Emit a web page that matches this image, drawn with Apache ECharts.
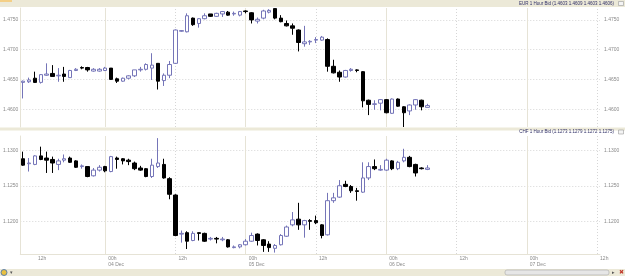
<!doctype html>
<html>
<head>
<meta charset="UTF-8">
<title>EUR / CHF 1 Hour Bid</title>
<script src="https://cdn.jsdelivr.net/npm/echarts@6/dist/echarts.min.js"></script>
<style>
  html, body { margin: 0; padding: 0; background: #fff; }
  #chart { width: 625px; height: 276px; }
</style>
</head>
<body>
<div id="chart"></div>
<script>
// hours counted from 00h 03 Dec; first candle is 10h 03 Dec
var firstHour = 10;
var lastHour = 108;

// x axis ticks (hour, label)
var tickHours = [12, 24, 36, 48, 60, 72, 84, 96, 108];
var tickText = ['12h', '00h\n04 Dec', '12h', '00h\n05 Dec', '12h', '00h\n06 Dec', '12h', '00h\n07 Dec', '12h'];
var dayLines = [24, 48, 72, 96];     // solid
var halfDayLines = [36, 60, 84, 108]; // dotted

// EUR 1 Hour Bid: [open, close, low, high]
var eurBid = [
  [1.4645, 1.4647, 1.4618, 1.4648], [1.4646, 1.4649, 1.4644, 1.4653], [1.4652, 1.4645, 1.4644, 1.4663],
  [1.4645, 1.4658, 1.4643, 1.4659], [1.4657, 1.4659, 1.4656, 1.4677], [1.4660, 1.4655, 1.4655, 1.4674],
  [1.4656, 1.4657, 1.4646, 1.4669], [1.4659, 1.4655, 1.4646, 1.4671], [1.4653, 1.4665, 1.4653, 1.4666],
  [1.4665, 1.4667, 1.4664, 1.4669], [1.4670, 1.4669, 1.4667, 1.4672], [1.4670, 1.4666, 1.4663, 1.4671],
  [1.4664, 1.4667, 1.4663, 1.4669], [1.4664, 1.4667, 1.4663, 1.4669], [1.4665, 1.4669, 1.4664, 1.4671],
  [1.4669, 1.4650, 1.4649, 1.4669], [1.4651, 1.4647, 1.4644, 1.4653], [1.4647, 1.4652, 1.4646, 1.4653],
  [1.4652, 1.4656, 1.4650, 1.4657], [1.4656, 1.4666, 1.4654, 1.4666], [1.4666, 1.4667, 1.4663, 1.4671],
  [1.4667, 1.4675, 1.4665, 1.4677], [1.4669, 1.4674, 1.4649, 1.4694], [1.4677, 1.4647, 1.4633, 1.4677],
  [1.4648, 1.4657, 1.4639, 1.4660], [1.4657, 1.4675, 1.4652, 1.4681], [1.4677, 1.4733, 1.4676, 1.4734],
  [1.4731, 1.4732, 1.4730, 1.4733], [1.4730, 1.4757, 1.4729, 1.4761], [1.4753, 1.4742, 1.4740, 1.4754],
  [1.4744, 1.4752, 1.4737, 1.4753], [1.4752, 1.4757, 1.4751, 1.4761], [1.4760, 1.4756, 1.4755, 1.4760],
  [1.4756, 1.4761, 1.4755, 1.4762], [1.4760, 1.4764, 1.4755, 1.4765], [1.4763, 1.4758, 1.4757, 1.4765],
  [1.4760, 1.4761, 1.4757, 1.4764], [1.4758, 1.4764, 1.4756, 1.4765], [1.4765, 1.4764, 1.4761, 1.4766],
  [1.4762, 1.4750, 1.4744, 1.4763], [1.4748, 1.4751, 1.4744, 1.4754], [1.4753, 1.4765, 1.4751, 1.4767],
  [1.4763, 1.4766, 1.4761, 1.4768], [1.4769, 1.4753, 1.4751, 1.4769], [1.4753, 1.4747, 1.4746, 1.4758],
  [1.4744, 1.4740, 1.4739, 1.4749], [1.4740, 1.4736, 1.4725, 1.4744], [1.4733, 1.4712, 1.4697, 1.4734],
  [1.4710, 1.4713, 1.4705, 1.4740], [1.4713, 1.4714, 1.4708, 1.4716], [1.4716, 1.4717, 1.4711, 1.4721],
  [1.4716, 1.4721, 1.4715, 1.4723], [1.4717, 1.4672, 1.4663, 1.4719], [1.4672, 1.4661, 1.4660, 1.4683],
  [1.4662, 1.4654, 1.4646, 1.4665], [1.4654, 1.4665, 1.4653, 1.4666], [1.4665, 1.4667, 1.4663, 1.4669],
  [1.4666, 1.4665, 1.4662, 1.4667], [1.4663, 1.4614, 1.4603, 1.4664], [1.4615, 1.4608, 1.4590, 1.4616],
  [1.4608, 1.4609, 1.4599, 1.4615], [1.4610, 1.4616, 1.4598, 1.4617], [1.4616, 1.4594, 1.4593, 1.4617],
  [1.4593, 1.4617, 1.4592, 1.4618], [1.4617, 1.4605, 1.4604, 1.4618], [1.4604, 1.4594, 1.4570, 1.4605],
  [1.4597, 1.4607, 1.4590, 1.4608], [1.4607, 1.4616, 1.4599, 1.4617], [1.4615, 1.4604, 1.4598, 1.4616],
  [1.4603, 1.4606, 1.4603, 1.4609]
];

// CHF 1 Hour Bid: [open, close, low, high]
var chfBid = [
  [1.1288, 1.1279, 1.1278, 1.1298], [1.1281, 1.1282, 1.1270, 1.1289], [1.1280, 1.1292, 1.1279, 1.1293],
  [1.1292, 1.1287, 1.1286, 1.1305], [1.1289, 1.1286, 1.1268, 1.1298], [1.1287, 1.1282, 1.1268, 1.1291],
  [1.1280, 1.1285, 1.1272, 1.1288], [1.1286, 1.1288, 1.1283, 1.1294], [1.1289, 1.1283, 1.1282, 1.1291],
  [1.1285, 1.1276, 1.1275, 1.1286], [1.1277, 1.1278, 1.1274, 1.1280], [1.1277, 1.1263, 1.1262, 1.1277],
  [1.1264, 1.1272, 1.1263, 1.1275], [1.1272, 1.1276, 1.1270, 1.1279], [1.1277, 1.1271, 1.1269, 1.1278],
  [1.1270, 1.1291, 1.1269, 1.1292], [1.1289, 1.1287, 1.1274, 1.1291], [1.1288, 1.1285, 1.1280, 1.1289],
  [1.1286, 1.1284, 1.1279, 1.1288], [1.1282, 1.1274, 1.1272, 1.1284], [1.1275, 1.1272, 1.1271, 1.1278],
  [1.1274, 1.1263, 1.1262, 1.1275], [1.1263, 1.1279, 1.1261, 1.1288], [1.1277, 1.1282, 1.1275, 1.1317],
  [1.1280, 1.1261, 1.1260, 1.1288], [1.1260, 1.1238, 1.1231, 1.1262], [1.1237, 1.1180, 1.1179, 1.1238],
  [1.1182, 1.1183, 1.1170, 1.1187], [1.1184, 1.1172, 1.1161, 1.1186], [1.1173, 1.1183, 1.1172, 1.1186],
  [1.1184, 1.1183, 1.1173, 1.1184], [1.1183, 1.1172, 1.1171, 1.1184], [1.1175, 1.1176, 1.1173, 1.1178],
  [1.1176, 1.1175, 1.1169, 1.1178], [1.1174, 1.1175, 1.1172, 1.1178], [1.1174, 1.1164, 1.1163, 1.1175],
  [1.1163, 1.1164, 1.1162, 1.1166], [1.1164, 1.1167, 1.1162, 1.1168], [1.1167, 1.1172, 1.1166, 1.1175],
  [1.1172, 1.1180, 1.1171, 1.1184], [1.1182, 1.1173, 1.1166, 1.1183], [1.1174, 1.1166, 1.1157, 1.1175],
  [1.1168, 1.1163, 1.1157, 1.1172], [1.1162, 1.1166, 1.1156, 1.1168], [1.1167, 1.1180, 1.1166, 1.1182],
  [1.1179, 1.1192, 1.1178, 1.1194], [1.1195, 1.1202, 1.1193, 1.1213], [1.1203, 1.1195, 1.1188, 1.1226],
  [1.1195, 1.1201, 1.1177, 1.1202], [1.1201, 1.1200, 1.1188, 1.1203], [1.1201, 1.1198, 1.1196, 1.1208],
  [1.1195, 1.1180, 1.1176, 1.1196], [1.1181, 1.1229, 1.1180, 1.1240], [1.1229, 1.1233, 1.1226, 1.1240],
  [1.1234, 1.1250, 1.1233, 1.1258], [1.1252, 1.1249, 1.1248, 1.1257], [1.1249, 1.1243, 1.1240, 1.1251],
  [1.1243, 1.1242, 1.1229, 1.1247], [1.1241, 1.1261, 1.1240, 1.1283], [1.1261, 1.1277, 1.1258, 1.1283],
  [1.1277, 1.1274, 1.1272, 1.1287], [1.1272, 1.1273, 1.1271, 1.1279], [1.1272, 1.1286, 1.1271, 1.1288],
  [1.1285, 1.1274, 1.1272, 1.1286], [1.1274, 1.1283, 1.1272, 1.1285], [1.1285, 1.1290, 1.1283, 1.1302],
  [1.1290, 1.1277, 1.1276, 1.1292], [1.1280, 1.1268, 1.1263, 1.1281], [1.1275, 1.1274, 1.1273, 1.1276],
  [1.1273, 1.1275, 1.1272, 1.1279]
];

var eurRange = [1.4570, 1.4770];
var chfRange = [1.1154, 1.1320];

var hours = [];
for (var h = firstHour; h <= lastHour; h++) hours.push(String(h));

var font = 'Liberation Sans';
var upColor = '#7575b8';
var gridColor = '#d6d6d6';
var dayColor = '#e6e3d6';

// vertical day / half-day lines, carried by an empty series kept under the candles
function vLineSeries(xi, yi) {
  var d = [];
  dayLines.forEach(function (h) {
    d.push({ xAxis: h - firstHour, lineStyle: { color: dayColor, type: 'solid', width: 1 } });
  });
  halfDayLines.forEach(function (h) {
    d.push({ xAxis: h - firstHour, lineStyle: { color: gridColor, type: [1, 2], width: 1 } });
  });
  return {
    type: 'line', xAxisIndex: xi, yAxisIndex: yi, data: [], z: 1, silent: true,
    markLine: { z: 1, silent: true, symbol: 'none', animation: false, label: { show: false }, data: d }
  };
}

function yAx(grid, side, range) {
  return {
    type: 'value', gridIndex: grid, position: side, min: range[0], max: range[1], splitNumber: 4,
    axisLine: { show: side === 'left', lineStyle: { color: dayColor } },
    axisTick: { show: false },
    axisLabel: {
      fontSize: 5, fontFamily: font, color: '#8a8a8a', margin: side === 'left' ? 2 : 4,
      showMinLabel: false, showMaxLabel: false,
      formatter: function (v) { return v.toFixed(4); }
    },
    splitLine: side === 'left'
      ? { show: true, showMinLine: false, showMaxLine: false, lineStyle: { color: gridColor, type: [1, 2] } }
      : { show: false }
  };
}

var candleStyle = {
  color: '#ffffff', color0: '#000000',
  borderColor: upColor, borderColor0: '#000000', borderWidth: 1
};

var chart = echarts.init(document.getElementById('chart'), null, { renderer: 'canvas' });
chart.setOption({
  animation: false,
  backgroundColor: '#ffffff',
  grid: [
    { left: 19, right: 25, top: 8, height: 119 },
    { left: 19, right: 25, top: 136, height: 118 }
  ],
  xAxis: [
    { type: 'category', gridIndex: 0, data: hours, boundaryGap: true,
      axisLine: { show: false }, axisTick: { show: false }, axisLabel: { show: false }, splitLine: { show: false } },
    { type: 'category', gridIndex: 1, data: hours, boundaryGap: true,
      axisLine: { show: true, lineStyle: { color: dayColor } }, axisTick: { show: false }, splitLine: { show: false },
      axisLabel: {
        interval: function (i) { return tickHours.indexOf(i + firstHour) >= 0; },
        formatter: function (v, i) { return tickText[tickHours.indexOf(i + firstHour)] || ''; },
        fontSize: 5, lineHeight: 6, fontFamily: font, color: '#8a8a8a',
        align: 'left', padding: [0, 0, 0, 3], margin: 2
      } }
  ],
  yAxis: [
    yAx(0, 'left', eurRange), yAx(0, 'right', eurRange),
    yAx(1, 'left', chfRange), yAx(1, 'right', chfRange)
  ],
  series: [
    vLineSeries(0, 0),
    vLineSeries(1, 2),
    { name: 'EUR 1 Hour Bid', type: 'candlestick', xAxisIndex: 0, yAxisIndex: 0, z: 3,
      data: eurBid, barWidth: 4, itemStyle: candleStyle },
    { name: 'CHF 1 Hour Bid', type: 'candlestick', xAxisIndex: 1, yAxisIndex: 2, z: 3,
      data: chfBid, barWidth: 4, itemStyle: candleStyle }
  ],
  graphic: [
    { type: 'rect', z: -1, shape: { x: 0, y: 0, width: 625, height: 7 }, style: { fill: '#ece9d8' } },
    { type: 'rect', shape: { x: 0, y: 0, width: 12, height: 2 }, style: { fill: '#f4cf86' } },
    { type: 'text', x: 614, y: 3.5, style: { text: 'EUR 1 Hour Bid (1.4603 1.4609 1.4603 1.4606)',
      fontSize: 4.5, fontFamily: font, fill: '#2f2f66', align: 'right', verticalAlign: 'middle' } },
    { type: 'rect', shape: { x: 618.5, y: 1.5, width: 5, height: 4 }, style: { fill: '#f4f4f4', stroke: '#9a9a9a', lineWidth: 0.6 } },

    { type: 'rect', z: -1, shape: { x: 0, y: 127.5, width: 625, height: 3 }, style: { fill: '#ece9d8' } },
    { type: 'text', x: 614, y: 132, style: { text: 'CHF 1 Hour Bid (1.1273 1.1279 1.1272 1.1275)',
      fontSize: 4.5, fontFamily: font, fill: '#2f2f66', align: 'right', verticalAlign: 'middle' } },
    { type: 'rect', shape: { x: 618.5, y: 130, width: 5, height: 4 }, style: { fill: '#f4f4f4', stroke: '#9a9a9a', lineWidth: 0.6 } },

    { type: 'rect', shape: { x: 0, y: 269, width: 625, height: 7 }, style: { fill: '#ece9d8' } },
    { type: 'rect', shape: { x: 505, y: 270, width: 104, height: 5, r: 2 }, style: { fill: '#e6e6e6', stroke: '#a8a8a8', lineWidth: 0.6 } },
    { type: 'text', x: 612, y: 272.5, style: { text: '▸', fontSize: 5, fill: '#555', verticalAlign: 'middle' } },
    { type: 'text', x: 619, y: 272.5, style: { text: '✖', fontSize: 6, fill: '#c0392b', verticalAlign: 'middle' } },
    { type: 'circle', shape: { cx: 4, cy: 272.5, r: 3 }, style: { fill: '#e8c040', stroke: '#3b6db5', lineWidth: 0.8 } },
    { type: 'text', x: 10, y: 272.5, style: { text: '▾', fontSize: 5, fill: '#555', verticalAlign: 'middle' } }
  ]
});
</script>
</body>
</html>
